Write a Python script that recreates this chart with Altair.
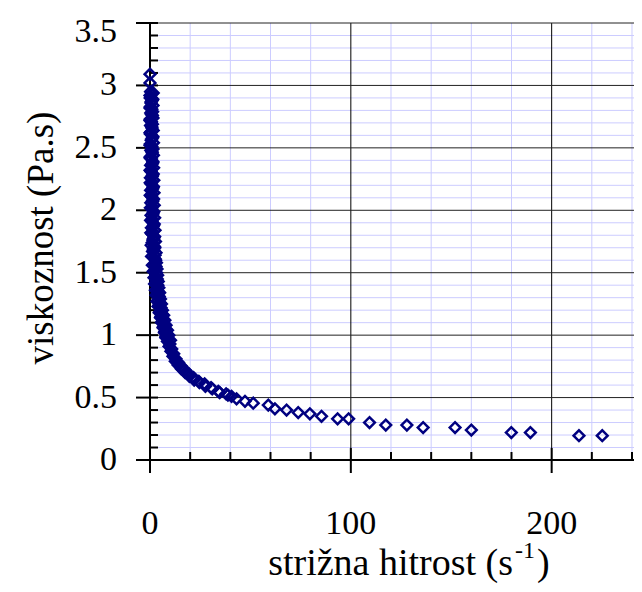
import altair as alt
import pandas as pd

# ---- data ----
shear_rate = [
    0.0, 0.0,
    0.3, 0.8, 0.1, 1.1, 0.5, 0.2, 0.9, 0.4, 1.2, 0.1, 0.7, 0.3, 1.0, 0.5, 0.2, 1.3,
    0.6, 0.1, 0.9, 0.4, 1.1, 0.2, 0.7, 1.4, 0.3, 0.8, 0.5, 1.2, 0.2, 0.9, 0.6, 1.5,
    0.3, 1.0, 0.7, 1.3, 0.4, 1.1, 0.8, 1.6, 0.5, 1.2, 0.9, 1.8, 0.7, 1.4, 1.0, 2.0,
    1.5, 1.1, 2.2, 1.7, 1.3, 2.5, 1.9, 2.8, 2.2, 3.0, 2.5, 3.3, 2.8, 3.6, 3.1, 3.9,
    3.4, 4.2, 3.7, 4.6, 4.0, 5.0, 4.5, 5.5, 5.0, 6.0, 5.5, 6.6, 6.1, 7.2, 6.8, 7.8,
    7.4, 8.4, 8.0, 9.1, 8.7, 9.9, 9.5, 10.8, 10.4, 11.8, 11.4, 12.9, 12.6, 14.2, 14.0,
    15.7, 15.6, 17.4, 17.5, 19.4, 19.6, 21.7, 22.0, 24.3, 24.6, 27.2, 27.6, 30.4, 31.0,
    34.0, 34.7, 37.9, 38.8, 40.6, 43.1, 47.3, 51.4, 58.9, 62.2, 68.0, 73.8, 79.6, 85.4,
    93.4, 98.9, 109.3, 117.4, 127.9, 136.0, 151.9, 160.0, 179.9, 189.4, 213.6, 225.2,
    1.6, 0.0, 1.4, 0.6, 1.5, 0.0, 1.3, 0.7, 1.5, 0.0, 1.2, 0.8, 1.6, 0.0, 1.4, 0.8,
    1.7, 0.0, 1.5, 0.9, 1.7, 0.0, 1.4, 1.0, 1.8, 0.0, 1.6, 1.1, 1.9, 0.1, 1.7, 1.2,
    2.0, 0.1, 1.8, 1.3, 2.1, 0.2, 1.9, 1.4, 2.3, 0.3, 2.1, 1.5, 2.5, 0.4, 2.3, 1.6,
    2.7, 0.6, 2.4, 1.8, 3.0, 0.8, 2.6, 3.2, 1.2, 3.5, 1.6, 3.8, 2.0, 4.1, 2.3, 4.4,
    2.7, 4.8, 3.0, 5.2, 3.5, 5.7, 4.0, 6.2, 4.6, 6.8, 5.2, 7.4, 5.8, 8.0, 6.5, 8.7,
    7.2, 9.4, 7.9, 10.2,
]
viscosity = [
    3.09, 3.02,
    2.95, 2.93, 2.90, 2.88, 2.86, 2.83, 2.81, 2.78, 2.76, 2.73, 2.71, 2.68, 2.66, 2.63, 2.61, 2.58,
    2.56, 2.53, 2.51, 2.48, 2.46, 2.43, 2.41, 2.38, 2.36, 2.33, 2.31, 2.28, 2.26, 2.23, 2.21, 2.18,
    2.16, 2.13, 2.11, 2.08, 2.06, 2.03, 2.01, 1.98, 1.96, 1.93, 1.91, 1.88, 1.86, 1.83, 1.81, 1.78,
    1.76, 1.74, 1.71, 1.69, 1.67, 1.64, 1.62, 1.60, 1.57, 1.55, 1.52, 1.50, 1.47, 1.45, 1.42, 1.40,
    1.37, 1.35, 1.33, 1.31, 1.28, 1.26, 1.24, 1.22, 1.19, 1.17, 1.15, 1.13, 1.11, 1.09, 1.07, 1.05,
    1.03, 1.01, 0.99, 0.97, 0.95, 0.93, 0.91, 0.89, 0.87, 0.85, 0.83, 0.81, 0.79, 0.78, 0.76,
    0.75, 0.73, 0.72, 0.70, 0.69, 0.67, 0.66, 0.64, 0.63, 0.62, 0.61, 0.59, 0.58, 0.57,
    0.55, 0.54, 0.53, 0.52, 0.51, 0.49, 0.47, 0.455, 0.44, 0.41, 0.40, 0.38, 0.37, 0.35,
    0.33, 0.33, 0.30, 0.28, 0.28, 0.26, 0.26, 0.24, 0.22, 0.22, 0.195, 0.195,
    2.94, 2.92, 2.89, 2.87, 2.84, 2.82, 2.79, 2.77, 2.74, 2.72, 2.69, 2.67, 2.64, 2.62, 2.59, 2.57,
    2.54, 2.52, 2.49, 2.47, 2.44, 2.42, 2.39, 2.37, 2.34, 2.32, 2.29, 2.27, 2.24, 2.22, 2.19, 2.17,
    2.14, 2.12, 2.09, 2.07, 2.04, 2.02, 1.99, 1.97, 1.94, 1.92, 1.89, 1.87, 1.84, 1.82, 1.79, 1.77,
    1.75, 1.72, 1.70, 1.68, 1.66, 1.63, 1.61, 1.58, 1.56, 1.53, 1.51, 1.48, 1.46, 1.43, 1.41, 1.38,
    1.36, 1.34, 1.32, 1.29, 1.27, 1.25, 1.23, 1.20, 1.18, 1.16, 1.14, 1.12, 1.10, 1.08, 1.06, 1.04,
    1.02, 1.00, 0.98, 0.96,
]

x_major = [100, 200]
x_minor = [20, 40, 60, 80, 120, 140, 160, 180, 220, 240]
x_tick_labels = [0, 100, 200]
y_major = [0.5, 1.0, 1.5, 2.0, 2.5, 3.0, 3.5]
y_minor = [0.1, 0.2, 0.3, 0.4, 0.6, 0.7, 0.8, 0.9, 1.1, 1.2, 1.3, 1.4, 1.6, 1.7, 1.8, 1.9,
           2.1, 2.2, 2.3, 2.4, 2.6, 2.7, 2.8, 2.9, 3.1, 3.2, 3.3, 3.4]
y_tick_labels = [0, 0.5, 1, 1.5, 2, 2.5, 3]
y_top_label = [3.5]
x_title = "strižna hitrost (s"
x_title_sup = "-1"
x_title_end = ")"
y_title = "viskoznost (Pa.s)"

W, H = 484, 437
FONT = "Liberation Serif"
NAVY = "#000080"
GRIDC = "#ccccff"

xs = alt.Scale(domain=[0, 241], nice=False, zero=False)
ys = alt.Scale(domain=[0, 3.5], nice=False, zero=False)

pts = pd.DataFrame({"x": shear_rate, "y": viscosity})
xmaj = pd.DataFrame({"x": x_major})
xmin_ = pd.DataFrame({"x": x_minor})
ymaj = pd.DataFrame({"y": y_major})
ymin_ = pd.DataFrame({"y": y_minor})
xlab = pd.DataFrame({"x": x_tick_labels})
ylab = pd.DataFrame({"y": y_tick_labels})
ytop = pd.DataFrame({"y": y_top_label})
xticks_all = pd.DataFrame({"x": [0] + x_major})
yticks_all = pd.DataFrame({"y": [0] + y_major})

X = lambda: alt.X("x:Q", scale=xs, axis=None)
Y = lambda: alt.Y("y:Q", scale=ys, axis=None)

grid_xminor = alt.Chart(xmin_).mark_rule(color=GRIDC, strokeWidth=1).encode(
    x=X(), y=alt.value(0), y2=alt.value(H))
grid_yminor = alt.Chart(ymin_).mark_rule(color=GRIDC, strokeWidth=1).encode(
    y=Y(), x=alt.value(0), x2=alt.value(W))
grid_xmajor = alt.Chart(xmaj).mark_rule(color="#000000", strokeWidth=1).encode(
    x=X(), y=alt.value(0), y2=alt.value(H))
grid_ymajor = alt.Chart(ymaj).mark_rule(color="#222222", strokeWidth=1).encode(
    y=Y(), x=alt.value(0), x2=alt.value(W))

# axis lines
yaxis_line = alt.Chart(xlab.head(1)).mark_rule(color="#000000", strokeWidth=2).encode(
    x=X(), y=alt.value(0), y2=alt.value(H))
xaxis_line = alt.Chart(ylab.head(1)).mark_rule(color="#000000", strokeWidth=2).encode(
    y=Y(), x=alt.value(0), x2=alt.value(W))

# ticks
xt_major = alt.Chart(xticks_all).mark_rule(color="#000000", strokeWidth=2).encode(
    x=X(), y=alt.value(H - 12), y2=alt.value(H + 13))
xt_minor = alt.Chart(xmin_).mark_rule(color="#000000", strokeWidth=2).encode(
    x=X(), y=alt.value(H - 8), y2=alt.value(H))
yt_major = alt.Chart(yticks_all).mark_rule(color="#000000", strokeWidth=2).encode(
    y=Y(), x=alt.value(-14), x2=alt.value(8))
yt_minor = alt.Chart(ymin_).mark_rule(color="#000000", strokeWidth=2).encode(
    y=Y(), x=alt.value(0), x2=alt.value(8))

points = alt.Chart(pts).mark_point(
    shape="diamond", filled=False, color=NAVY, strokeWidth=2.5, size=115, opacity=1
).encode(x=X(), y=Y())

ylabels = alt.Chart(ylab).mark_text(
    font=FONT, fontSize=34, align="right", baseline="middle", color="#000000"
).encode(y=Y(), x=alt.value(-33), text=alt.Text("y:Q"))
ytoplabel = alt.Chart(ytop).mark_text(
    font=FONT, fontSize=34, align="right", baseline="middle", color="#000000", dy=9
).encode(y=Y(), x=alt.value(-33), text=alt.Text("y:Q"))
xlabels = alt.Chart(xlab).mark_text(
    font=FONT, fontSize=34, align="center", baseline="middle", color="#000000"
).encode(x=X(), y=alt.value(H + 64), text=alt.Text("x:Q"))

xt1 = alt.Chart(xlab.head(1)).mark_text(
    font=FONT, fontSize=38, align="right", baseline="alphabetic", color="#000000", text=x_title
).encode(x=alt.value(363), y=alt.value(H + 115))
xt2 = alt.Chart(xlab.head(1)).mark_text(
    font=FONT, fontSize=24, align="left", baseline="alphabetic", color="#000000", text=x_title_sup
).encode(x=alt.value(365), y=alt.value(H + 98))
xt3 = alt.Chart(xlab.head(1)).mark_text(
    font=FONT, fontSize=38, align="left", baseline="alphabetic", color="#000000", text=x_title_end
).encode(x=alt.value(387), y=alt.value(H + 115))
ytitle = alt.Chart(xlab.head(1)).mark_text(
    font=FONT, fontSize=37, align="center", baseline="middle", color="#000000", angle=270,
    text=y_title
).encode(x=alt.value(-108), y=alt.value(215))

chart = alt.layer(
    grid_xminor, grid_yminor, grid_xmajor, grid_ymajor,
    yaxis_line, xaxis_line, xt_major, xt_minor, yt_major, yt_minor,
    points, ylabels, ytoplabel, xlabels, xt1, xt2, xt3, ytitle,
).properties(
    width=W, height=H,
    autosize=alt.AutoSizeParams(type="none"),
    padding={"left": 142, "top": 15, "right": 0, "bottom": 124},
    background="#ffffff",
).configure_view(strokeWidth=0)

chart.save("out.html", embed_options={"renderer": "svg", "actions": False})
